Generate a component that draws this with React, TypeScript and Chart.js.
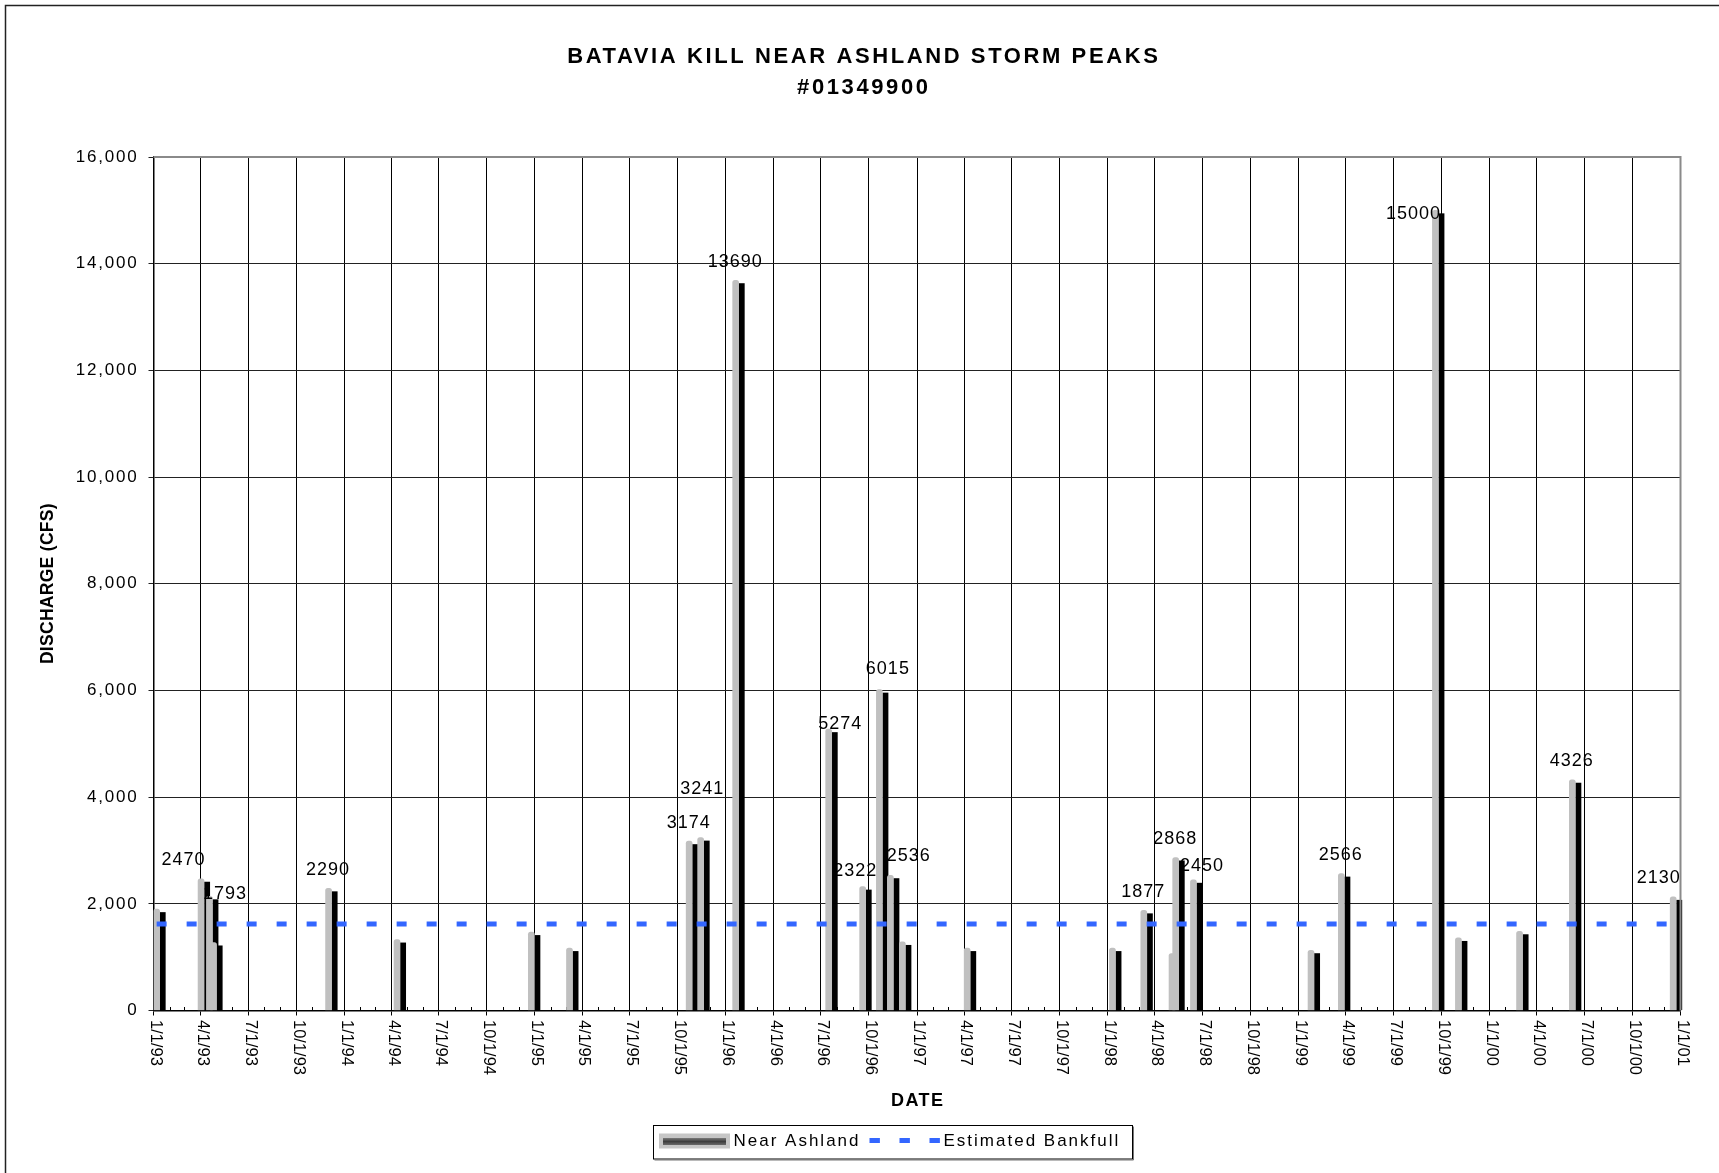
import React, { useEffect, useRef } from 'react';
import { Chart, registerables } from 'chart.js';

Chart.register(...registerables);

// ---------------- data ----------------
const TITLE_LINES = ['BATAVIA KILL NEAR ASHLAND STORM PEAKS', '#01349900'];
const Y_TITLE = 'DISCHARGE (CFS)';
const X_TITLE = 'DATE';
const SERIES_PEAKS = 'Near Ashland';
const SERIES_BANKFULL = 'Estimated Bankfull';

const PEAK_DATES = [
  '1993-01-07', '1993-04-02', '1993-04-18', '1993-04-26', '1993-12-02', '1994-04-12',
  '1994-12-25', '1995-03-08', '1995-10-23', '1995-11-14', '1996-01-20', '1996-07-16',
  '1996-09-19', '1996-10-21', '1996-11-11', '1996-12-04', '1997-04-07', '1998-01-10',
  '1998-03-11', '1998-05-04', '1998-05-11', '1998-06-14', '1999-01-25', '1999-03-24',
  '1999-09-20', '1999-11-03', '2000-02-28', '2000-06-08', '2000-12-18',
];
const PEAK_CFS = [
  1900, 2470, 2140, 1275, 2290, 1330,
  1470, 1170, 3174, 3241, 13690, 5274,
  2322, 6015, 2536, 1285, 1170, 1170,
  1877, 1065, 2868, 2450, 1130, 2566,
  15000, 1360, 1485, 4326, 2130,
];
const PEAK_LABELS = [
  '', '2470', '1793', '', '2290', '',
  '', '', '3174', '3241', '13690', '5274',
  '2322', '6015', '2536', '', '', '',
  '1877', '', '2868', '2450', '', '2566',
  '15000', '', '', '4326', '2130',
];
const BANKFULL_CFS = 1620;

const TICK_LABELS = [
  '1/1/93', '4/1/93', '7/1/93', '10/1/93',
  '1/1/94', '4/1/94', '7/1/94', '10/1/94',
  '1/1/95', '4/1/95', '7/1/95', '10/1/95',
  '1/1/96', '4/1/96', '7/1/96', '10/1/96',
  '1/1/97', '4/1/97', '7/1/97', '10/1/97',
  '1/1/98', '4/1/98', '7/1/98', '10/1/98',
  '1/1/99', '4/1/99', '7/1/99', '10/1/99',
  '1/1/00', '4/1/00', '7/1/00', '10/1/00',
  '1/1/01',
];
const Y_MIN = 0;
const Y_MAX = 16000;
const Y_STEP = 2000;

// label nudges (px) for hand-placed data labels
const LABEL_NUDGE: Record<string, [number, number]> = {
  '2470': [-17, 0],
  '1793': [16, 16],
  '3241': [2, -30],
  '5274': [12, 13.5],
  '2322': [-7, 3],
  '6015': [9, -2],
  '2536': [19, -1],
  '2450': [9, 4.5],
  '15000': [-21.5, 22],
  '2130': [-14, 0],
};

// ---------------- helpers ----------------
const FONT = '"Liberation Sans", Arial, Helvetica, sans-serif';
const BLUE = 'rgb(51,102,255)';
const DAY_MS = 86400000;
const ORIGIN = Date.UTC(1993, 0, 1);
const isoDay = (s: string) => {
  const [y, m, d] = s.split('-').map(Number);
  return (Date.UTC(y, m - 1, d) - ORIGIN) / DAY_MS;
};
const tickDay = (s: string) => {
  const [m, d, yy] = s.split('/').map(Number);
  return (Date.UTC(yy < 50 ? 2000 + yy : 1900 + yy, m - 1, d) - ORIGIN) / DAY_MS;
};
const TICK_DAYS = TICK_LABELS.map(tickDay);
const PEAK_DAYS = PEAK_DATES.map(isoDay);
const MINOR_DAYS: number[] = [];
for (let y = 1993; y <= 2000; y++) {
  for (let m = 0; m < 12; m++) {
    if (m % 3 !== 0) MINOR_DAYS.push((Date.UTC(y, m, 1) - ORIGIN) / DAY_MS);
  }
}

function drawText(
  ctx: CanvasRenderingContext2D, text: string, x: number, y: number, font: string,
  spacing: number, align: CanvasTextAlign = 'center', baseline: CanvasTextBaseline = 'alphabetic', rotate = 0,
) {
  ctx.save();
  ctx.font = font;
  (ctx as any).letterSpacing = spacing + 'px';
  ctx.fillStyle = '#000';
  ctx.textAlign = align;
  ctx.textBaseline = baseline;
  ctx.translate(x, y);
  if (rotate) ctx.rotate(rotate);
  let dx = 0;
  if (align === 'center') dx = spacing / 2;
  else if (align === 'right') dx = spacing;
  ctx.fillText(text, dx, 0);
  ctx.restore();
}

const Y_TICK_SPACING = '1.8px';

const spacingPlugin = {
  id: 'spacing',
  beforeUpdate(chart: any) { chart.ctx.letterSpacing = Y_TICK_SPACING; },
  beforeDraw(chart: any) {
    const ctx = chart.ctx;
    ctx.letterSpacing = Y_TICK_SPACING;
    ctx.save();
    ctx.fillStyle = '#fff';
    ctx.fillRect(0, 0, chart.width, chart.height);
    ctx.restore();
  },
};

const shadowPlugin = {
  id: 'shadows',
  beforeDatasetsDraw(chart: any) {
    const ctx = chart.ctx;
    ctx.letterSpacing = '0px';
    ctx.save();
    const xs = chart.scales.x;
    const axisY = chart.chartArea.bottom;
    ctx.strokeStyle = '#000';
    ctx.lineWidth = 1;
    ctx.beginPath();
    for (const d of MINOR_DAYS) {
      const px = Math.round(xs.getPixelForValue(d)) + 0.5;
      ctx.moveTo(px, axisY);
      ctx.lineTo(px, axisY - 3.5);
    }
    ctx.stroke();
    const meta = chart.getDatasetMeta(1);
    ctx.fillStyle = '#000';
    meta.data.forEach((el: any) => {
      const { x, y, base, width } = el.getProps(['x', 'y', 'base', 'width'], true);
      ctx.fillRect(x + width / 2, y + 3, width, base - y - 3);
    });
    ctx.restore();
  },
};

const labelPlugin = {
  id: 'valueLabels',
  afterDatasetsDraw(chart: any) {
    const ctx = chart.ctx;
    const meta = chart.getDatasetMeta(1);
    meta.data.forEach((el: any, i: number) => {
      const text = PEAK_LABELS[i];
      if (!text) return;
      const [dx, dy] = LABEL_NUDGE[text] || [0, 0];
      drawText(ctx, text, el.x - 1 + dx, el.y - 13.5 + dy, `18px ${FONT}`, 1, 'center', 'alphabetic');
    });
  },
};

const decorPlugin = {
  id: 'decor',
  afterDraw(chart: any) {
    const ctx: CanvasRenderingContext2D = chart.ctx;
    const { left, right, top, bottom } = chart.chartArea;
    // plot-area border (top / right) in gray
    ctx.save();
    ctx.strokeStyle = '#8a8a8a';
    ctx.lineWidth = 2;
    ctx.beginPath();
    ctx.moveTo(left, top);
    ctx.lineTo(right, top);
    ctx.lineTo(right, bottom);
    ctx.stroke();
    ctx.restore();

    // outer frame (top & left)
    ctx.save();
    ctx.strokeStyle = '#222';
    ctx.lineWidth = 1.5;
    ctx.beginPath();
    ctx.moveTo(chart.width, 5.5);
    ctx.lineTo(5.5, 5.5);
    ctx.lineTo(5.5, chart.height);
    ctx.stroke();
    ctx.restore();

    // title
    const cx = chart.width / 2 + 3;
    drawText(ctx, TITLE_LINES[0], cx, 62.5, `bold 22px ${FONT}`, 2.6, 'center');
    drawText(ctx, TITLE_LINES[1], cx, 93.5, `bold 22px ${FONT}`, 2.6, 'center');

    // axis titles
    drawText(ctx, Y_TITLE, 48.5, (top + bottom) / 2, `bold 17.5px ${FONT}`, 0.3, 'center', 'middle', -Math.PI / 2);
    drawText(ctx, X_TITLE, (left + right) / 2, 1106, `bold 18px ${FONT}`, 1.5, 'center');

    // x tick labels (rotated clockwise)
    const xs = chart.scales.x;
    TICK_LABELS.forEach((t, i) => {
      drawText(ctx, t, xs.getPixelForValue(TICK_DAYS[i]) + 2, bottom + 9.5, `16.5px ${FONT}`, 0, 'left', 'middle', Math.PI / 2);
    });

    // legend
    const bx = 653.5, by = 1125.5, bw = 479, bh = 33.5;
    ctx.save();
    ctx.strokeStyle = '#000';
    ctx.lineWidth = 1;
    ctx.strokeRect(bx, by, bw, bh);
    ctx.strokeStyle = '#777';
    ctx.beginPath();
    ctx.moveTo(bx + 1, by + bh + 1);
    ctx.lineTo(bx + bw + 1, by + bh + 1);
    ctx.lineTo(bx + bw + 1, by + 1);
    ctx.stroke();
    // peaks icon
    ctx.fillStyle = '#c6c6c6';
    ctx.fillRect(bx + 5.5, by + 8, 71, 15);
    const g = ctx.createLinearGradient(0, by + 12.5, 0, by + 19.5);
    g.addColorStop(0, '#7a7a7a');
    g.addColorStop(0.5, '#3e3e3e');
    g.addColorStop(1, '#6a6a6a');
    ctx.fillStyle = g;
    ctx.fillRect(bx + 9.5, by + 12.5, 63, 7);
    // bankfull icon
    ctx.strokeStyle = BLUE;
    ctx.lineWidth = 5;
    ctx.setLineDash([10.4, 19.6]);
    ctx.beginPath();
    ctx.moveTo(bx + 216, by + 15);
    ctx.lineTo(bx + 287, by + 15);
    ctx.stroke();
    ctx.restore();
    drawText(ctx, SERIES_PEAKS, bx + 80, by + 20.2, `17px ${FONT}`, 2, 'left');
    drawText(ctx, SERIES_BANKFULL, bx + 290, by + 20.2, `17px ${FONT}`, 2, 'left');
  },
};

export default function App() {
  const canvasRef = useRef<HTMLCanvasElement | null>(null);

  useEffect(() => {
    document.body.style.margin = '0';
    document.body.style.overflow = 'hidden';
    const canvas = canvasRef.current;
    if (!canvas) return;
    Chart.defaults.font.family = FONT;
    const lastIdx = PEAK_DAYS.length - 1;
    const chart = new Chart(canvas, {
      type: 'bar',
      data: {
        datasets: [
          {
            type: 'line',
            label: SERIES_BANKFULL,
            data: [
              { x: PEAK_DAYS[0], y: BANKFULL_CFS },
              { x: PEAK_DAYS[lastIdx], y: BANKFULL_CFS },
            ],
            borderColor: BLUE,
            borderWidth: 5,
            borderDash: [10, 20],
            borderCapStyle: 'butt',
            pointRadius: 0,
            fill: false,
            tension: 0,
            order: 0,
          } as any,
          {
            type: 'bar',
            label: SERIES_PEAKS,
            data: PEAK_DAYS.map((x, i) => ({ x, y: PEAK_CFS[i] })),
            backgroundColor: '#c0c0c0',
            barThickness: 6,
            borderRadius: { topLeft: 2.5, topRight: 2.5, bottomLeft: 0, bottomRight: 0 },
            borderSkipped: 'start',
            order: 1,
          } as any,
        ],
      },
      options: {
        animation: false,
        responsive: false,
        events: [],
        layout: { padding: { left: 0, right: 38.5, top: 157, bottom: 152.5 } },
        plugins: {
          legend: { display: false },
          title: { display: false },
          tooltip: { enabled: false },
        },
        scales: {
          x: {
            type: 'linear',
            min: TICK_DAYS[0],
            max: TICK_DAYS[TICK_DAYS.length - 1],
            offset: false,
            grid: { offset: false, color: '#000', lineWidth: 1, tickLength: 5, drawTicks: true },
            border: { color: '#000', width: 1.5 },
            ticks: { display: false },
            afterBuildTicks: (axis: any) => {
              axis.ticks = TICK_DAYS.map((v) => ({ value: v }));
            },
            afterFit: (s: any) => { s.height = 10; },
          },
          y: {
            type: 'linear',
            min: Y_MIN,
            max: Y_MAX,
            ticks: {
              stepSize: Y_STEP,
              color: '#000',
              padding: 10,
              font: { family: FONT, size: 17 },
              callback: (v: any) => Number(v).toLocaleString('en-US'),
            },
            grid: { color: '#222', lineWidth: 1, tickLength: 5 },
            border: { color: '#000', width: 1.5 },
            afterFit: (s: any) => { s.width = 153.5; },
          },
        },
      } as any,
      plugins: [spacingPlugin, shadowPlugin, labelPlugin, decorPlugin],
    });
    return () => chart.destroy();
  }, []);

  return (
    <div style={{ width: 1719, height: 1173, background: '#fff' }}>
      <canvas ref={canvasRef} width={1719} height={1173} style={{ display: 'block' }} />
    </div>
  );
}
